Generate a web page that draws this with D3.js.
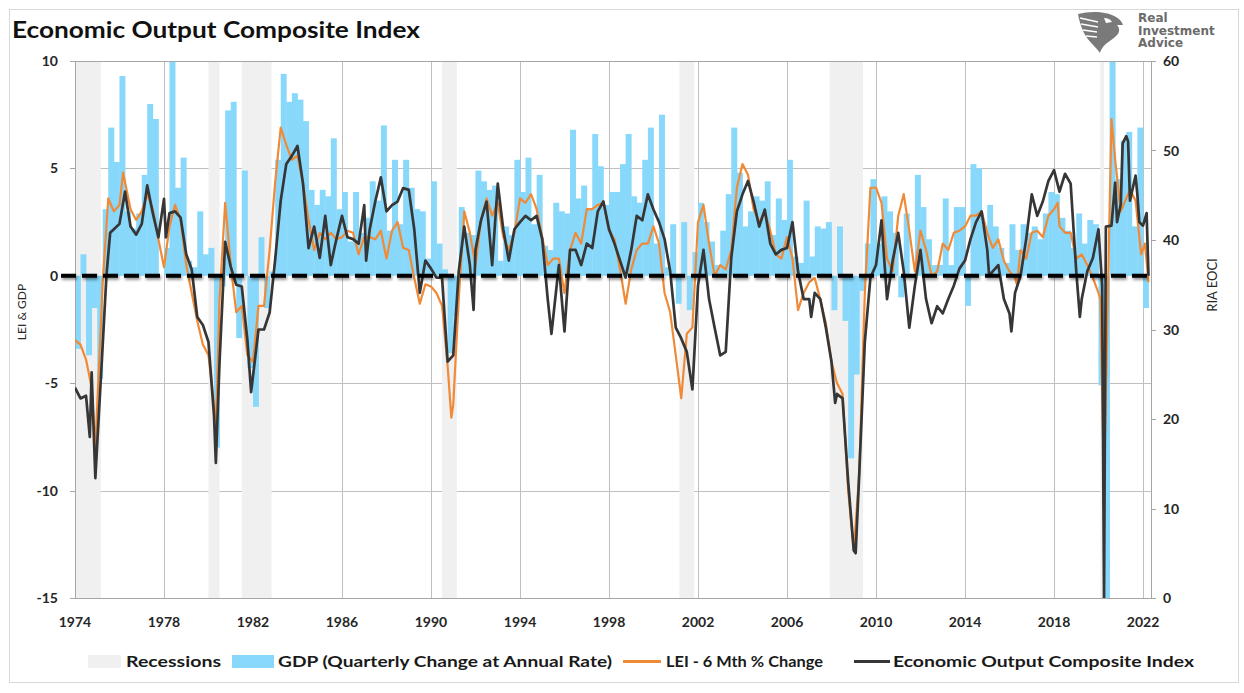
<!DOCTYPE html>
<html>
<head>
<meta charset="utf-8">
<script src="https://cdn.jsdelivr.net/npm/d3@7/dist/d3.min.js"></script>
<style>
  body { margin: 0; background: #fff; }
  svg { display: block; font-family: Lato, "Open Sans", sans-serif; }
</style>
</head>
<body>
<div id="app"></div>
<script>
//recessions (peak month, trough month)
const recessions = [
  ["1973-11", "1975-03"], ["1980-01", "1980-07"], ["1981-07", "1982-11"],
  ["1990-07", "1991-03"], ["2001-03", "2001-11"], ["2007-12", "2009-06"],
  ["2020-02", "2020-04"]
];

//GDP, quarterly change at annual rate, from 1974 Q1
const gdpStart = "1974-01";
const gdp = [
  -3.4, 1.0, -3.7, -1.5, -4.8, 3.1, 6.9, 5.3, 9.3, 3.0, 2.2, 2.9,
  4.7, 8.0, 7.3, 0.0, 1.3, 16.4, 4.1, 5.5, 0.7, 0.4, 3.0, 1.0,
  1.3, -8.0, -0.5, 7.7, 8.1, -2.9, 4.9, -4.3, -6.1, 1.8, -1.5, 0.2,
  5.4, 9.4, 8.1, 8.5, 8.2, 7.2, 4.0, 3.3, 4.0, 3.7, 6.4, 3.1,
  3.9, 1.6, 3.9, 2.0, 2.7, 4.4, 3.5, 7.0, 2.1, 5.4, 2.4, 5.4,
  4.1, 3.1, 3.0, 0.8, 4.4, 1.5, 0.3, -3.6, -1.9, 3.2, 2.0, 1.9,
  4.9, 4.4, 4.0, 4.2, 0.7, 2.3, 1.9, 5.4, 3.9, 5.5, 2.4, 4.7,
  1.4, 1.2, 3.4, 3.0, 2.9, 6.8, 3.6, 4.2, 3.1, 6.6, 5.1, 3.3,
  3.9, 3.9, 5.2, 6.6, 3.7, 3.4, 5.4, 6.9, 1.5, 7.5, 0.4, 2.4,
  -1.3, 2.5, -1.6, 1.1, 3.4, 2.5, 1.6, 0.5, 2.1, 3.8, 6.9, 4.8,
  2.3, 3.0, 3.7, 3.5, 4.4, 1.9, 3.6, 2.6, 5.4, 0.9, 0.6, 3.5,
  0.9, 2.3, 2.2, 2.5, -1.6, 2.3, -2.1, -8.5, -4.6, -0.7, 1.5, 4.5,
  1.5, 3.7, 3.0, 2.0, -1.0, 2.9, -0.1, 4.7, 3.2, 1.7, 0.5, 0.5,
  3.6, 0.5, 3.2, 3.2, -1.4, 5.2, 5.0, 2.3, 3.3, 2.3, 1.3, 0.6,
  2.4, 1.2, 2.4, 2.0, 2.3, 1.7, 2.9, 3.9, 3.8, 2.7, 2.1, 1.3,
  2.9, 1.5, 2.6, 2.4, -5.1, -31.2, 33.8, 4.5, 6.3, 6.7, 2.3, 6.9,
  -1.5
];

//LEI - 6 month % change (left axis)
const leiDates = [
  "1974-01","1974-04","1974-07","1974-10","1974-12","1975-04","1975-07","1975-10",
  "1976-01","1976-03","1976-07","1976-10","1977-01","1977-04","1977-07","1977-10",
  "1978-01","1978-04","1978-07","1978-10","1979-01","1979-04","1979-07","1979-10",
  "1980-01","1980-04","1980-05","1980-07","1980-10","1981-01","1981-04","1981-07",
  "1981-10","1982-01","1982-04","1982-07","1982-10","1983-01","1983-04","1983-07",
  "1983-10","1984-01","1984-04","1984-07","1984-10","1985-01","1985-04","1985-07",
  "1985-10","1986-01","1986-04","1986-07","1986-10","1987-01","1987-04","1987-07",
  "1987-10","1988-01","1988-04","1988-07","1988-10","1989-01","1989-04","1989-07",
  "1989-10","1990-01","1990-04","1990-07","1990-10","1990-12","1991-01","1991-04",
  "1991-07","1991-10","1992-01","1992-04","1992-07","1992-10","1993-01","1993-04",
  "1993-07","1993-10","1994-01","1994-04","1994-07","1994-10","1995-01","1995-04",
  "1995-07","1995-10","1996-01","1996-04","1996-07","1996-10","1997-01","1997-04",
  "1997-07","1997-10","1998-01","1998-04","1998-07","1998-10","1999-01","1999-04",
  "1999-07","1999-10","2000-01","2000-04","2000-07","2000-10","2001-01","2001-04",
  "2001-07","2001-10","2002-01","2002-04","2002-07","2002-10","2003-01","2003-04",
  "2003-07","2003-10","2004-01","2004-04","2004-07","2004-10","2005-01","2005-04",
  "2005-07","2005-10","2006-01","2006-04","2006-07","2006-10","2007-01","2007-04",
  "2007-07","2007-10","2008-01","2008-04","2008-07","2008-10","2009-01","2009-04",
  "2009-07","2009-10","2010-01","2010-04","2010-07","2010-10","2011-01","2011-04",
  "2011-07","2011-10","2012-01","2012-04","2012-07","2012-10","2013-01","2013-04",
  "2013-07","2013-10","2014-01","2014-04","2014-07","2014-10","2015-01","2015-04",
  "2015-07","2015-10","2016-01","2016-04","2016-05","2016-07","2016-10","2017-01",
  "2017-04","2017-07","2017-10","2018-01","2018-03","2018-04","2018-07","2018-10",
  "2019-01","2019-04","2019-07","2019-10","2020-01","2020-02","2020-04","2020-08",
  "2020-10","2021-01","2021-06","2021-09","2021-12","2022-02","2022-04"
];
const leiValues = [
  -3.0, -3.2, -3.9, -5.2, -8.0, -0.3, 3.6, 3.0,
  3.3, 4.8, 3.1, 2.6, 3.0, 3.8, 3.1, 1.7,
  0.4, 2.3, 3.3, 2.6, 0.5, -0.8, -2.1, -3.2,
  -3.7, -6.0, -7.3, -1.1, 3.4, 0.5, -1.7, -1.4,
  -3.7, -4.0, -1.4, -1.4, 1.2, 4.4, 6.9, 6.1,
  5.4, 5.6, 4.3, 2.6, 1.2, 2.0, 1.7, 2.0,
  1.7, 1.8, 2.1, 2.0, 1.0, 1.8, 1.8, 1.7,
  2.1, 0.8, 2.1, 2.5, 1.3, 1.2, -0.1, -1.3,
  -0.4, -0.5, -0.8, -1.4, -4.2, -6.6, -6.0, -1.1,
  3.0, 2.0, 0.5, 2.6, 3.6, 2.8, 3.4, 1.8,
  1.2, 2.0, 3.6, 3.4, 3.8, 3.1, 1.8, 0.5,
  0.8, 0.8, -0.8, 1.2, 2.0, 1.5, 3.1, 3.1,
  3.3, 3.4, 2.1, 1.7, 0.3, -1.3, 0.3, 1.2,
  1.5, 1.5, 2.3, 1.5, -0.8, -1.7, -3.7, -5.7,
  -2.7, -2.4, 2.5, 3.3, 1.5, 0.0, 0.5, 0.3,
  1.2, 4.1, 5.2, 4.7, 3.1, 2.5, 3.0, 2.1,
  1.0, 0.8, 1.8, 0.8, -1.6, -0.8, -0.3, -0.1,
  -1.1, -2.2, -4.0, -5.0, -5.5, -10.0, -12.8, -9.2,
  -0.8, 4.1, 4.1, 3.4, 0.8, 0.2, 2.8, 3.8,
  2.1, 0.2, 2.1, 1.2, 0.0, 0.2, 1.5, 1.2,
  2.0, 2.1, 2.3, 2.8, 2.8, 3.0, 2.0, 1.3,
  1.7, 0.7, 0.2, -0.1, -0.4, 1.2, 0.8, 2.0,
  2.1, 1.8, 2.8, 3.1, 3.4, 2.3, 2.0, 2.0,
  0.8, 1.0, 0.5, -0.1, -0.8, -1.1, -9.7, 7.3,
  5.4, 3.0, 4.0, 3.5, 1.0, 1.5, -0.3
];

//Economic Output Composite Index (right axis)
const eociDates = [
  "1974-01","1974-04","1974-07","1974-09","1974-10","1974-12","1975-04","1975-06",
  "1975-08","1975-10","1976-01","1976-04","1976-07","1976-10","1977-01","1977-04",
  "1977-07","1977-10","1978-01","1978-02","1978-04","1978-07","1978-10","1979-01",
  "1979-04","1979-07","1979-10","1980-01","1980-04","1980-05","1980-07","1980-10",
  "1981-01","1981-04","1981-07","1981-10","1981-12","1982-04","1982-07","1982-10",
  "1983-01","1983-04","1983-07","1983-10","1984-01","1984-04","1984-07","1984-10",
  "1985-01","1985-04","1985-07","1985-10","1986-01","1986-04","1986-07","1986-10",
  "1987-01","1987-02","1987-04","1987-07","1987-10","1988-01","1988-04","1988-07",
  "1988-10","1989-01","1989-04","1989-07","1989-10","1990-01","1990-04","1990-07",
  "1990-10","1991-01","1991-04","1991-07","1991-10","1991-12","1992-01","1992-04",
  "1992-07","1992-10","1993-01","1993-04","1993-07","1993-10","1994-01","1994-04",
  "1994-07","1994-10","1995-01","1995-04","1995-06","1995-10","1996-01","1996-04",
  "1996-07","1996-10","1997-01","1997-04","1997-07","1997-10","1998-01","1998-04",
  "1998-07","1998-10","1999-01","1999-04","1999-07","1999-10","2000-01","2000-04",
  "2000-07","2000-10","2001-01","2001-04","2001-07","2001-10","2002-01","2002-04",
  "2002-07","2002-10","2003-01","2003-04","2003-07","2003-10","2004-01","2004-04",
  "2004-07","2004-10","2005-01","2005-04","2005-07","2005-10","2006-01","2006-04",
  "2006-07","2006-10","2007-01","2007-02","2007-04","2007-07","2007-10","2008-01",
  "2008-03","2008-04","2008-07","2008-10","2009-01","2009-02","2009-04","2009-07",
  "2009-10","2010-01","2010-04","2010-07","2010-10","2011-01","2011-04","2011-07",
  "2011-10","2012-01","2012-04","2012-07","2012-10","2013-01","2013-04","2013-07",
  "2013-10","2014-01","2014-04","2014-07","2014-10","2015-01","2015-02","2015-04",
  "2015-07","2015-10","2016-01","2016-02","2016-04","2016-07","2016-10","2017-01",
  "2017-04","2017-07","2017-10","2018-01","2018-04","2018-07","2018-10","2019-01",
  "2019-03","2019-04","2019-07","2019-10","2020-01","2020-03","2020-04","2020-05",
  "2020-08","2020-10","2020-11","2021-01","2021-02","2021-04","2021-05","2021-06",
  "2021-09","2021-10","2021-11","2022-01","2022-03","2022-04"
];
const eociValues = [
  23.5, 22.3, 22.6, 18.0, 25.2, 13.4, 28.3, 36.0,
  40.8, 41.2, 41.8, 45.4, 41.5, 40.6, 41.8, 46.1,
  43.0, 40.3, 44.6, 40.3, 43.0, 43.2, 42.5, 38.4,
  36.7, 31.4, 30.5, 28.6, 20.4, 15.1, 26.4, 39.8,
  37.0, 35.0, 34.8, 28.8, 23.0, 30.0, 30.0, 31.9,
  37.9, 44.4, 48.5, 49.4, 50.5, 46.3, 39.1, 41.5,
  38.0, 42.7, 37.2, 40.1, 42.7, 40.3, 40.1, 39.6,
  43.9, 37.7, 41.2, 44.3, 47.0, 43.2, 43.9, 44.3,
  45.8, 45.6, 41.2, 34.1, 37.7, 36.8, 35.8, 35.8,
  26.4, 27.1, 36.5, 41.5, 37.2, 32.2, 38.9, 42.2,
  44.3, 37.2, 46.3, 41.2, 37.7, 41.2, 42.0, 42.7,
  42.2, 42.7, 40.1, 33.4, 29.5, 37.2, 29.8, 38.9,
  38.9, 37.2, 39.6, 39.1, 43.2, 44.3, 41.2, 39.6,
  37.7, 35.8, 38.9, 42.7, 42.2, 45.1, 43.4, 42.0,
  40.1, 36.5, 30.2, 29.0, 27.5, 23.3, 34.9, 38.9,
  33.4, 30.2, 27.1, 27.5, 38.0, 43.2, 45.1, 46.6,
  44.3, 41.5, 43.4, 39.6, 38.4, 38.9, 39.1, 42.0,
  36.5, 33.4, 33.4, 31.4, 34.1, 33.4, 30.2, 26.4,
  21.8, 22.8, 22.3, 13.0, 5.3, 5.0, 13.9, 28.6,
  35.8, 37.2, 42.2, 33.4, 37.7, 40.8, 36.5, 30.2,
  34.9, 38.9, 33.4, 30.7, 32.6, 31.8, 33.4, 34.9,
  36.8, 37.7, 40.1, 42.0, 43.2, 38.9, 36.0, 36.5,
  37.2, 33.4, 31.8, 29.8, 34.1, 36.0, 40.1, 45.1,
  42.7, 44.3, 46.6, 47.8, 45.4, 47.4, 46.3, 36.5,
  31.4, 33.4, 36.5, 38.0, 41.2, 34.9, 0.0, 41.5,
  41.6, 46.4, 42.0, 44.0, 50.8, 51.6, 51.0, 44.4,
  47.2, 45.0, 42.0, 41.6, 43.0, 36.0
];

const leftTicks = [-15, -10, -5, 0, 5, 10];
const rightTicks = [0, 10, 20, 30, 40, 50, 60];
const yearTicks = [1974, 1978, 1982, 1986, 1990, 1994, 1998, 2002, 2006, 2010, 2014, 2018, 2022];

const W = 1244, H = 693;
const plot = { left: 75, right: 1151, top: 61, bottom: 598 };
const parse = d3.timeParse("%Y-%m");

const svg = d3.select("#app").append("svg").attr("width", W).attr("height", H);

//clip + shadow filter
const defs = svg.append("defs");
defs.append("clipPath").attr("id", "clip").append("rect")
  .attr("x", plot.left).attr("y", plot.top)
  .attr("width", plot.right - plot.left).attr("height", plot.bottom - plot.top);
defs.append("filter").attr("id", "shadow")
  .attr("filterUnits", "userSpaceOnUse")
  .attr("x", 40).attr("y", 250).attr("width", 1130).attr("height", 50)
  .append("feDropShadow").attr("dx", 1).attr("dy", 2).attr("stdDeviation", 1.6)
  .attr("flood-color", "#000").attr("flood-opacity", 0.45);

//frame
svg.append("rect").attr("x", 9.5).attr("y", 9.5).attr("width", 1229).attr("height", 673)
  .attr("fill", "none").attr("stroke", "#d9d9d9");

//scales
const x = d3.scaleTime()
  .domain([new Date(1974, 0, 1), new Date(2022, 4, 12)])
  .range([plot.left, plot.right]);
const yL = d3.scaleLinear().domain([-15, 10]).range([plot.bottom, plot.top]);
const yR = d3.scaleLinear().domain([0, 60]).range([plot.bottom, plot.top]);

//grid
const grid = svg.append("g").attr("stroke", "#bfbfbf").attr("stroke-width", 1);
grid.selectAll(".h").data(leftTicks.filter((v) => v !== -15 && v !== 0)).enter()
  .append("line")
  .attr("x1", plot.left).attr("x2", plot.right)
  .attr("y1", (d) => Math.round(yL(d)) + 0.5).attr("y2", (d) => Math.round(yL(d)) + 0.5);
grid.selectAll(".v").data(yearTicks.slice(1)).enter()
  .append("line")
  .attr("x1", (d) => Math.round(x(new Date(d, 0, 1))) + 0.5)
  .attr("x2", (d) => Math.round(x(new Date(d, 0, 1))) + 0.5)
  .attr("y1", plot.top).attr("y2", plot.bottom);

//recession shading
svg.append("g").selectAll("rect").data(recessions).enter()
  .append("rect")
  .attr("clip-path", "url(#clip)")
  .attr("x", (d) => Math.max(plot.left, x(parse(d[0]))))
  .attr("width", (d) => x(parse(d[1])) - Math.max(plot.left, x(parse(d[0]))))
  .attr("y", plot.top).attr("height", plot.bottom - plot.top)
  .attr("fill", "#f0f0f0");

//GDP bars
const q0 = parse(gdpStart);
const gdpData = gdp.map((v, i) => ({
  start: d3.timeMonth.offset(q0, 3 * i),
  end: d3.timeMonth.offset(q0, 3 * i + 3),
  v
}));
svg.append("g").attr("clip-path", "url(#clip)")
  .selectAll("rect").data(gdpData).enter()
  .append("rect")
  .attr("x", (d) => x(d.start))
  .attr("width", (d) => x(d.end) - x(d.start) + 0.4)
  .attr("y", (d) => yL(Math.max(0, d.v)))
  .attr("height", (d) => Math.abs(yL(d.v) - yL(0)))
  .attr("fill", "#88d8fb");

//axis lines + ticks
const axisG = svg.append("g").attr("stroke", "#a6a6a6").attr("stroke-width", 1);
axisG.append("line").attr("x1", plot.left + 0.5).attr("x2", plot.left + 0.5).attr("y1", plot.top).attr("y2", plot.bottom);
axisG.append("line").attr("x1", plot.right + 0.5).attr("x2", plot.right + 0.5).attr("y1", plot.top).attr("y2", plot.bottom);
axisG.append("line").attr("x1", plot.left).attr("x2", plot.right).attr("y1", plot.bottom + 0.5).attr("y2", plot.bottom + 0.5);
axisG.append("line").attr("x1", plot.left).attr("x2", plot.right).attr("y1", plot.top + 0.5).attr("y2", plot.top + 0.5);
axisG.selectAll(".lt").data(leftTicks).enter().append("line")
  .attr("x1", plot.left - 5).attr("x2", plot.left)
  .attr("y1", (d) => Math.round(yL(d)) + 0.5).attr("y2", (d) => Math.round(yL(d)) + 0.5);
axisG.selectAll(".rt").data(rightTicks).enter().append("line")
  .attr("x1", plot.right).attr("x2", plot.right + 5)
  .attr("y1", (d) => Math.round(yR(d)) + 0.5).attr("y2", (d) => Math.round(yR(d)) + 0.5);

//lines
const leiData = leiDates.map((d, i) => ({ date: parse(d), v: leiValues[i] }));
const eociData = eociDates.map((d, i) => ({ date: parse(d), v: eociValues[i] }));
const lines = svg.append("g").attr("clip-path", "url(#clip)");
lines.append("path").datum(leiData)
  .attr("fill", "none").attr("stroke", "#f08a37").attr("stroke-width", 2.2)
  .attr("stroke-linejoin", "round")
  .attr("d", d3.line().x((d) => x(d.date)).y((d) => yL(d.v)));
lines.append("path").datum(eociData)
  .attr("fill", "none").attr("stroke", "#363636").attr("stroke-width", 2.7)
  .attr("stroke-linejoin", "round")
  .attr("d", d3.line().x((d) => x(d.date)).y((d) => yR(d.v)));

//zero line
svg.append("line")
  .attr("x1", 61).attr("x2", plot.right - 1)
  .attr("y1", yL(0)).attr("y2", yL(0))
  .attr("stroke", "#000").attr("stroke-width", 4)
  .attr("stroke-dasharray", "15,6")
  .attr("filter", "url(#shadow)");

//tick labels
const labelStyle = (sel) => sel.attr("font-size", 14).attr("font-weight", 700).attr("fill", "#262626");
svg.append("g").selectAll("text").data(leftTicks).enter().append("text")
  .attr("x", 58).attr("y", (d) => yL(d) + 5).attr("text-anchor", "end")
  .text((d) => d).call(labelStyle);
svg.append("g").selectAll("text").data(rightTicks).enter().append("text")
  .attr("x", 1163).attr("y", (d) => yR(d) + 5).attr("text-anchor", "start")
  .text((d) => d).call(labelStyle);
svg.append("g").selectAll("text").data(yearTicks).enter().append("text")
  .attr("x", (d) => x(new Date(d, 0, 1))).attr("y", 627).attr("text-anchor", "middle")
  .text((d) => d).call(labelStyle);

//axis titles
svg.append("text").attr("transform", "translate(26,312) rotate(-90)")
  .attr("text-anchor", "middle").attr("font-size", 12).attr("fill", "#262626")
  .text("LEI & GDP");
svg.append("text").attr("transform", "translate(1217,285) rotate(-90)")
  .attr("text-anchor", "middle").attr("font-size", 13).attr("fill", "#262626")
  .text("RIA EOCI");

//title
svg.append("text").attr("x", 12).attr("y", 38)
  .attr("font-size", 22).attr("font-weight", 700).attr("fill", "#111")
  .attr("textLength", 408).attr("lengthAdjust", "spacingAndGlyphs")
  .text("Economic Output Composite Index");

//logo
const logo = svg.append("g").attr("transform", "translate(1076,11)");
logo.append("path")
  .attr("d", "M2,3 C14,0 30,0 40,6 C44,8 46,11 47,14 L41,14 C44,17 44,22 40,25 C36,29 31,31 27,36 C25,39 24,41 24,42 C20,36 12,30 8,22 C5,16 3,9 2,3 Z")
  .attr("fill", "#7a7a7a");
logo.append("path").attr("d", "M4,7 L22,11 M5,13 L22,16 M7,19 L21,21 M10,25 L21,26")
  .attr("stroke", "#fff").attr("stroke-width", 1.6).attr("fill", "none");
logo.append("path").attr("d", "M28,7 C32,7 35,9 36,11 L30,12 Z").attr("fill", "#fff");
const logoText = svg.append("g").attr("font-family", "'DejaVu Sans', sans-serif")
  .attr("font-weight", 700).attr("font-size", 12).attr("fill", "#6b6b6b");
logoText.append("text").attr("x", 1138).attr("y", 22).text("Real");
logoText.append("text").attr("x", 1138).attr("y", 34.5).text("Investment");
logoText.append("text").attr("x", 1138).attr("y", 47).text("Advice");

//legend
const legend = svg.append("g").attr("font-size", 15).attr("font-weight", 700).attr("fill", "#1a1a1a");
legend.append("rect").attr("x", 88).attr("y", 655).attr("width", 33).attr("height", 13).attr("fill", "#f0f0f0");
legend.append("text").attr("x", 126).attr("y", 667).text("Recessions")
  .attr("textLength", 95).attr("lengthAdjust", "spacingAndGlyphs");
legend.append("rect").attr("x", 232).attr("y", 655).attr("width", 42).attr("height", 13).attr("fill", "#88d8fb");
legend.append("text").attr("x", 278).attr("y", 667).text("GDP (Quarterly Change at Annual Rate)")
  .attr("textLength", 334).attr("lengthAdjust", "spacingAndGlyphs");
legend.append("line").attr("x1", 623).attr("x2", 661).attr("y1", 661.5).attr("y2", 661.5)
  .attr("stroke", "#f08a37").attr("stroke-width", 3);
legend.append("text").attr("x", 666).attr("y", 667).text("LEI - 6 Mth % Change")
  .attr("textLength", 157).attr("lengthAdjust", "spacingAndGlyphs");
legend.append("line").attr("x1", 854).attr("x2", 890).attr("y1", 661.5).attr("y2", 661.5)
  .attr("stroke", "#363636").attr("stroke-width", 3);
legend.append("text").attr("x", 893).attr("y", 667).text("Economic Output Composite Index")
  .attr("textLength", 301).attr("lengthAdjust", "spacingAndGlyphs");
</script>
</body>
</html>
